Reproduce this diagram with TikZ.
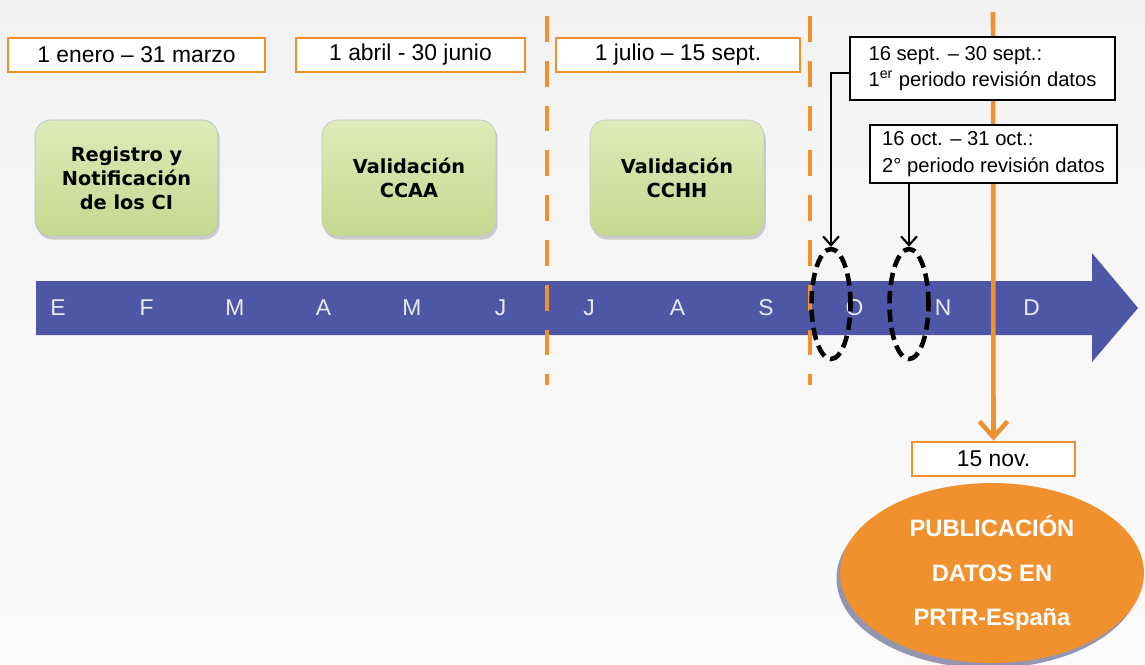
\documentclass[tikz,border=0pt]{standalone}
\usepackage{fontspec}
\setmainfont{Liberation Sans}
\newfontfamily\verdana{DejaVu Sans}
\usetikzlibrary{shapes.geometric,arrows.meta,shadows}

\definecolor{naranja}{HTML}{F0912E}
\definecolor{azul}{HTML}{4E56A6}
\definecolor{verdeclaro}{HTML}{DEEAB8}
\definecolor{verde}{HTML}{C6D890}

\begin{document}
\begin{tikzpicture}[x=0.02cm,y=-0.02cm,
    fecha/.style={draw=naranja,line width=1.6pt,fill=white,minimum height=0.68cm,inner sep=0pt,font=\fontsize{13}{15}\selectfont},
    fase/.style={draw=gray!45,rounded corners=9pt,top color=verdeclaro,bottom color=verde,minimum width=3.48cm,minimum height=2.32cm,align=center,font=\verdana\bfseries\fontsize{11}{13.6}\selectfont,drop shadow={opacity=0.35,shadow xshift=1pt,shadow yshift=-2pt}},
    revision/.style={draw,line width=1.5pt,fill=white,align=left,inner sep=0pt,font=\fontsize{11.5}{15}\selectfont},
    mes/.style={text=white!88!azul,font=\fontsize{13}{15}\selectfont},
    periodo/.style={ellipse,draw,line width=2.6pt,dash pattern=on 7pt off 3.5pt,minimum width=0.78cm,minimum height=2.2cm,inner sep=0pt},
    corte/.style={naranja,line width=2.4pt,dash pattern=on 14.7pt off 10.8pt}]

  \useasboundingbox (0,0) rectangle (1145,664);
  \shade[top color=gray!10,bottom color=gray!3] (0,0) rectangle (1145,664);

  % linea de tiempo
  \fill[azul] (36,281) -- (1092,281) -- (1092,253) -- (1138,308) -- (1092,362) -- (1092,335) -- (36,335) -- cycle;
  \foreach \m [count=\i from 0] in {E,F,M,A,M,J,J,A,S,O,N,D}
    \node[mes] (m\i) at (58+88.5*\i,308) {\m};

  \draw[corte] (547,16) -- (547,385);
  \draw[corte] (810,16) -- (810,385);

  \node[fecha,minimum width=5.14cm] (d1) at (136.5,55) {1 enero -- 31 marzo};
  \node[fecha,minimum width=4.58cm] (d2) at (410.5,55) {1 abril - 30 junio};
  \node[fecha,minimum width=4.88cm] (d3) at (678,55) {1 julio -- 15 sept.};

  \node[fase,draw=cyan!30!gray!60,minimum width=3.66cm] (f1) at (126.5,178) {Registro y\\Notificación\\de los CI};
  \node[fase] (f2) at (409,178) {Validación\\CCAA};
  \node[fase] (f3) at (677,178) {Validación\\CCHH};

  % publicacion
  \node[fecha,minimum width=3.26cm] (nov) at (993.5,459) {15 nov.};
  \coordinate (tope) at (993,12);
  \draw[naranja,line width=2.6pt,-{Straight Barb[length=9pt,width=16pt]}] (tope) -- (nov.north);

  \node[revision,minimum width=5.3cm,minimum height=1.26cm] (r1) at (982.5,68.5) {16 sept. -- 30 sept.:\\1\textsuperscript{er} periodo revisión datos};
  \node[revision,minimum width=4.94cm,minimum height=1.16cm] (r2) at (993.5,154) {16 oct. -- 31 oct.:\\2° periodo revisión datos};

  \node[periodo] (e1) at (831,304) {};
  \node[periodo] (e2) at (909,304) {};
  \draw[line width=1.2pt,-{Straight Barb[length=5pt,width=9pt]}] ([yshift=-2.5pt]r1.west) -| (e1.north);
  \draw[line width=1.2pt,-{Straight Barb[length=5pt,width=9pt]}] (e2.north |- r2.south) -- (e2.north);

  \node[ellipse,fill=naranja,minimum width=6.08cm,minimum height=3.6cm,inner sep=0pt,text=white,align=center,font=\bfseries\fontsize{13.5}{25.5}\selectfont,drop shadow={fill=azul!50!gray,opacity=0.7,shadow xshift=-2pt,shadow yshift=-3pt}] (pub) at (992,573) {PUBLICACIÓN\\DATOS EN\\PRTR-España};
\end{tikzpicture}
\end{document}
